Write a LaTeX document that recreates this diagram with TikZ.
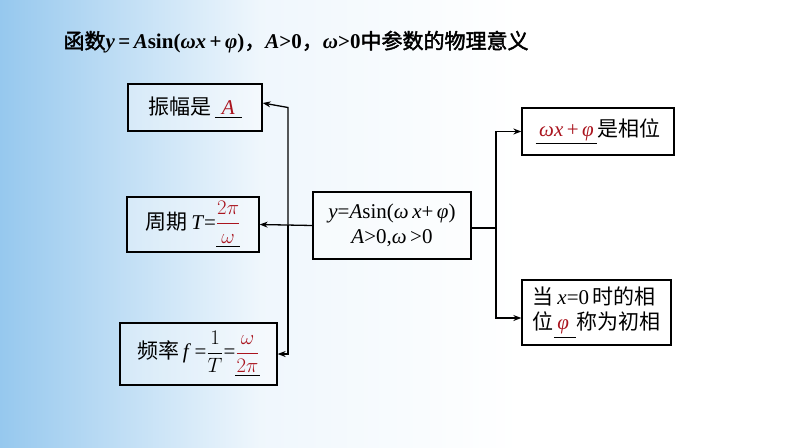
\documentclass[tikz,border=0pt]{standalone}
\usepackage{amsmath}
\usepackage{fontspec}
\setmainfont{Liberation Serif}
\newfontfamily\cjk{Noto Sans CJK SC}
\newfontfamily\cjkb{Noto Sans CJK SC}[FakeBold=2]
\newfontfamily\tim{Liberation Serif}
\usetikzlibrary{arrows.meta}
\definecolor{dred}{RGB}{170,20,30}
\definecolor{bgblue}{RGB}{150,200,238}
\begin{document}
\begin{tikzpicture}[x=1pt,y=-1pt,
  bx/.style={draw=black,line width=1.3pt,fill=white,fill opacity=0.35,text opacity=1,inner sep=4pt,font=\fontsize{21}{25}\selectfont},
  ln/.style={line width=1.3pt},
  ar/.style={line width=1.3pt,-{Stealth[length=8pt,width=6pt]}}]
\useasboundingbox (0,0) rectangle (794,447);
\fill[white] (0,0) rectangle (794,447);
\shade[left color=bgblue,right color=white,middle color=bgblue!15] (0,0) rectangle (520,447);
\node[anchor=west,font=\fontsize{21}{24}\selectfont] (title) at (60,42)
 {{\cjkb 函数}{\tim\bfseries\itshape y}\,{\tim\bfseries =\,}{\tim\bfseries\itshape A}{\tim\bfseries sin(}{\tim\bfseries\itshape ωx}{\tim\bfseries\,+\,}{\tim\bfseries\itshape φ}{\tim\bfseries )}{\cjkb ，}{\tim\bfseries\itshape A}{\tim\bfseries >0}{\cjkb ，}{\tim\bfseries\itshape ω}{\tim\bfseries >0}{\cjkb 中参数的物理意义}};
% boxes
\node[bx,minimum width=134,minimum height=47] (amp) at (195,107.5) {{\cjk 振幅是}\,\underline{\,\,\textcolor{dred}{\textit{A}}\,\,}};
\node[bx,minimum width=132,minimum height=55] (per) at (193,224.5) {{\cjk 周期}\,\textit{T}=$\underline{\textcolor{dred}{\dfrac{2\pi}{\omega}}}$};
\node[bx,minimum width=157,minimum height=62,inner sep=2pt] (fre) at (198.5,354) {{\cjk 频率}\,\textit{f}\,=$\dfrac{1}{T}$=$\underline{\textcolor{dred}{\dfrac{\omega}{2\pi}}}$};
\node[bx,minimum width=158,minimum height=67,align=center] (cen) at (392,225.5) {\textit{y}=\textit{A}sin(\textit{ω}\,\textit{x}+\,\textit{φ})\\\textit{A}>0,\textit{ω}\,>0};
\node[bx,minimum width=152,minimum height=47] (ph) at (598,131.5) {\underline{\,\textcolor{dred}{\textit{ωx}\,+\,\textit{φ}}\,}{\cjk 是相位}};
\node[bx,minimum width=149,minimum height=65,align=left,inner sep=2pt] (ini) at (596.5,312.5) {{\cjk 当}\,\textit{x}=0\,{\cjk 时的相}\\{\cjk 位}\underline{\,\textcolor{dred}{\textit{φ}}\,\,}{\cjk 称为初相}};
% connectors
\coordinate (lj) at (288,224.5);
\coordinate (rj) at (496,228);
\draw[ar] (cen.west) -- (per.east);
\draw[ar] (lj) -- (lj|-amp.east) -- ([yshift=4.5]amp.east);
\draw[ar] (lj) -- (lj|-fre.east) -- (fre.east);
\draw[ln] (cen.east|-rj) -- (rj);
\draw[ar] (rj) -- (rj|-ph.west) -- (ph.west);
\draw[ar] (rj) -- (496,318) -- (ini.west|-0,318);
\end{tikzpicture}
\end{document}
